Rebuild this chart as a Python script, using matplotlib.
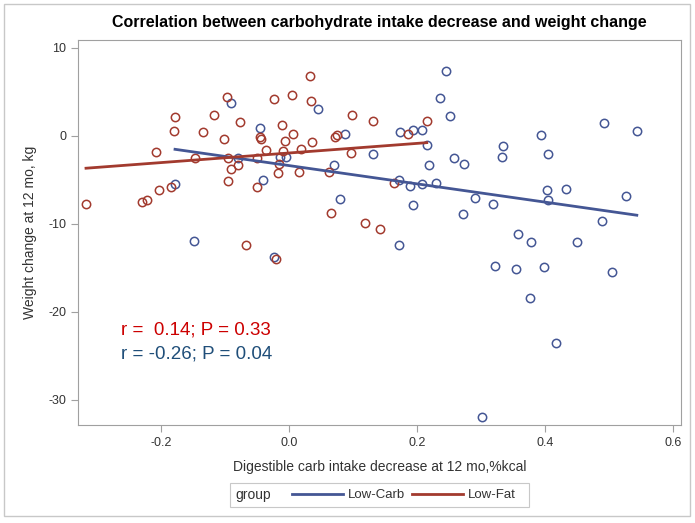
import numpy as np
import matplotlib
matplotlib.use("Agg")
from matplotlib import pyplot as plt
from matplotlib.lines import Line2D
from matplotlib.patches import Rectangle

plt.rcParams.update({
    'font.family': ['Liberation Sans', 'DejaVu Sans'],
    'font.size': 9,
    'axes.unicode_minus': False,
})

# Low-Fat group (red)
lf_x = [-0.317, -0.230, -0.221, -0.203, -0.184, -0.208, -0.179, -0.178, -0.147, -0.135,
        -0.117, -0.102, -0.097, -0.077, -0.095, -0.090, -0.080, -0.095, -0.050, -0.050,
        -0.046, -0.044, -0.036, -0.023, -0.011, -0.006, 0.006, -0.010, -0.015, -0.018,
        0.004, 0.018, 0.015, 0.033, 0.034, 0.036, 0.063, 0.072, 0.075, 0.098,
        0.097, 0.131, 0.066, 0.119, 0.142, 0.186, 0.215, 0.164, -0.067, -0.021]
lf_y = [-7.7, -7.5, -7.3, -6.1, -5.8, -1.8, 0.6, 2.1, -2.5, 0.4,
        2.35, -0.3, 4.45, 1.6, -2.5, -3.75, -3.25, -5.1, -2.5, -5.8,
        -0.1, -0.35, -1.55, 4.2, 1.25, -0.6, 0.2, -1.75, -3.2, -4.25,
        4.65, -1.5, -4.1, 6.8, 4.0, -0.7, -4.1, -0.1, 0.15, 2.35,
        -1.9, 1.7, -8.8, -9.85, -10.6, 0.2, 1.75, -5.4, -12.45, -13.95]

# Low-Carb group (blue)
lc_x = [-0.178, -0.090, -0.079, -0.041, -0.046, -0.014, -0.004, 0.046, 0.070, 0.087,
        0.131, 0.080, 0.174, 0.194, 0.208, 0.216, 0.218, 0.245, 0.236, 0.252,
        0.258, 0.273, 0.171, 0.189, 0.208, 0.230, 0.194, 0.291, 0.319, 0.272,
        0.334, 0.332, 0.393, 0.405, 0.403, 0.432, 0.405, 0.492, 0.543, 0.526,
        0.489, 0.358, -0.149, -0.024, 0.171, 0.378, 0.449, 0.322, 0.354, 0.398,
        0.504, 0.376, 0.417, 0.302]
lc_y = [-5.45, 3.7, -2.5, -5.0, 0.85, -2.4, -2.4, 3.1, -3.25, 0.2,
        -2.05, -7.2, 0.4, 0.65, 0.65, -1.05, -3.35, 7.4, 4.35, 2.25,
        -2.5, -3.15, -5.05, -5.7, -5.45, -5.35, -7.8, -7.1, -7.7, -8.9,
        -1.15, -2.4, 0.05, -2.05, -6.2, -6.05, -7.25, 1.5, 0.55, -6.8,
        -9.7, -11.1, -11.95, -13.8, -12.45, -12.1, -12.1, -14.8, -15.15, -14.9,
        -15.5, -18.4, -23.5, -31.9]

# regression fits: (intercept, slope)
lf_fit = (-1.94, 5.46)
lc_fit = (-3.37, -10.39)

c_lc = '#445694'
c_lf = '#A23A2E'

fig = plt.figure(figsize=(6.95, 5.23), dpi=100)
ax = fig.add_axes([78 / 695, 1 - 425 / 523, (681 - 78) / 695, (425 - 40) / 523])

ax.plot(lc_x, lc_y, 'o', mfc='none', mec=c_lc, ms=6, mew=1.1)
ax.plot(lf_x, lf_y, 'o', mfc='none', mec=c_lf, ms=6, mew=1.1)

for xs, fit, col in [(lc_x, lc_fit, c_lc), (lf_x, lf_fit, c_lf)]:
    xx = np.array([min(xs), max(xs)])
    ax.plot(xx, fit[0] + fit[1] * xx, color=col, lw=2)

ax.set_xlim(-0.3295, 0.612)
ax.set_ylim(-32.85, 10.9)
ax.set_xticks([-0.2, 0.0, 0.2, 0.4, 0.6])
ax.set_xticklabels(['-0.2', '0.0', '0.2', '0.4', '0.6'])
ax.set_yticks([10, 0, -10, -20, -30])
for s in ax.spines.values():
    s.set_color('#a0a0a0')
ax.tick_params(colors='#a0a0a0', labelcolor='#333333', labelsize=9, length=5)

ax.set_xlabel('Digestible carb intake decrease at 12 mo,%kcal', fontsize=10, color='#333333', labelpad=8)
ax.set_ylabel('Weight change at 12 mo, kg', fontsize=10, color='#333333', labelpad=8)
ax.set_title('Correlation between carbohydrate intake decrease and weight change',
             fontsize=11.5, fontweight='bold', pad=9)

ax.text(0.072, 0.236, 'r =  0.14; P = 0.33', transform=ax.transAxes, color='#CC0000', fontsize=13.5)
ax.text(0.072, 0.174, 'r = -0.26; P = 0.04', transform=ax.transAxes, color='#1F4E79', fontsize=13.5)

# legend with "group" label to the left, boxed
fig.patches.append(Rectangle((230 / 695, 1 - 507 / 523), (529 - 230) / 695, 24 / 523,
                             transform=fig.transFigure, fill=False, ec='#c8c8c8', lw=0.8))
fig.text(235 / 695, 1 - 495 / 523, 'group', fontsize=10, va='center', ha='left', color='#333333')
handles = [Line2D([], [], color=c_lc, lw=2), Line2D([], [], color=c_lf, lw=2)]
fig.legend(handles, ['Low-Carb', 'Low-Fat'], ncol=2, frameon=False, fontsize=9.5,
           loc='center left', bbox_to_anchor=(280 / 695, 1 - 495 / 523),
           handlelength=3.9, columnspacing=0.5, handletextpad=0.35, labelcolor='#333333')

# outer border
fig.patches.append(Rectangle((4 / 695, 1 - 516 / 523), 686 / 695, 512 / 523,
                             transform=fig.transFigure, fill=False, ec='#c8c8c8', lw=1))

fig.savefig('out.png', dpi=100)
